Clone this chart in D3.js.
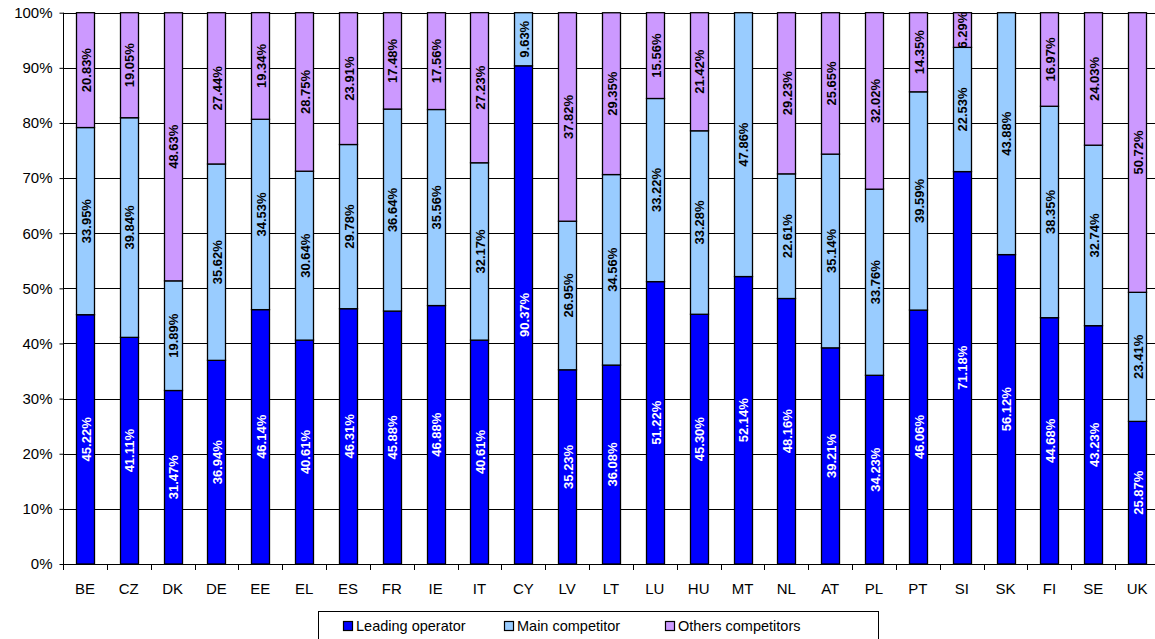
<!DOCTYPE html>
<html>
<head>
<meta charset="utf-8">
<script src="https://cdn.jsdelivr.net/npm/d3@7"></script>
<style>
  html, body { margin: 0; padding: 0; background: #fff; }
  svg { display: block; font-family: Arial, "Liberation Sans", sans-serif; }
</style>
</head>
<body>
<svg id="chart" width="1155" height="639"></svg>
<script>
const categories = ["BE","CZ","DK","DE","EE","EL","ES","FR","IE","IT","CY","LV","LT","LU","HU","MT","NL","AT","PL","PT","SI","SK","FI","SE","UK"];
const leadingOperator = [45.22,41.11,31.47,36.94,46.14,40.61,46.31,45.88,46.88,40.61,90.37,35.23,36.08,51.22,45.30,52.14,48.16,39.21,34.23,46.06,71.18,56.12,44.68,43.23,25.87];
const mainCompetitor = [33.95,39.84,19.89,35.62,34.53,30.64,29.78,36.64,35.56,32.17,9.63,26.95,34.56,33.22,33.28,47.86,22.61,35.14,33.76,39.59,22.53,43.88,38.35,32.74,23.41];
const othersCompetitors = [20.83,19.05,48.63,27.44,19.34,28.75,23.91,17.48,17.56,27.23,0,37.82,29.35,15.56,21.42,0,29.23,25.65,32.02,14.35,6.29,0,16.97,24.03,50.72];
const seriesNames = ["Leading operator","Main competitor","Others competitors"];
const seriesColors = ["#0000FF","#99CCFF","#CC99FF"];
const labelColors = ["#FFFFFF","#000000","#000000"];
const yTicks = [0,10,20,30,40,50,60,70,80,90,100];

(function () {
const svg = d3.select("#chart");
const pl = 63, pr = 1159, pt = 12.7, pb = 564;

const x = d3.scaleBand().domain(categories).range([pl, pr]).paddingInner(0.59).paddingOuter(0.295);
const xb = d3.scaleBand().domain(categories).range([pl, pr]);
const y = d3.scaleLinear().domain([0, 100]).range([pb, pt]);

// gridlines
svg.append("g").selectAll("line").data(yTicks.filter(d => d > 0)).join("line")
  .attr("x1", pl).attr("x2", pr)
  .attr("y1", d => Math.round(y(d)) + 0.5).attr("y2", d => Math.round(y(d)) + 0.5)
  .attr("stroke", "#000").attr("stroke-width", 1);

// stacked data
const rows = categories.map((c, i) => ({cat: c, s0: leadingOperator[i], s1: mainCompetitor[i], s2: othersCompetitors[i]}));
const stack = d3.stack().keys(["s0","s1","s2"])(rows);

stack.forEach((layer, li) => {
  const g = svg.append("g");
  g.selectAll("rect").data(layer.filter(d => d[1] - d[0] > 0)).join("rect")
    .attr("x", d => Math.round(x(d.data.cat)) + 0.5)
    .attr("width", Math.round(x.bandwidth()))
    .attr("y", d => y(d[1]))
    .attr("height", d => y(d[0]) - y(d[1]))
    .attr("fill", seriesColors[li])
    .attr("stroke", "#000").attr("stroke-width", 1.3);
});

stack.forEach((layer, li) => {
  const g = svg.append("g");
  g.selectAll("text").data(layer.filter(d => d[1] - d[0] > 0)).join("text")
    .attr("transform", d => {
      const cx = x(d.data.cat) + x.bandwidth() / 2 + 1;
      const cy = y((d[0] + d[1]) / 2);
      return `translate(${cx},${cy}) rotate(-90)`;
    })
    .attr("text-anchor", "middle").attr("dy", "0.36em")
    .attr("font-size", 13).attr("font-weight", "bold")
    .attr("fill", labelColors[li])
    .text(d => (d[1] - d[0]).toFixed(2) + "%");
});

// y axis
const yAxis = svg.append("g").attr("transform", `translate(${pl + 0.5},0)`)
  .call(d3.axisLeft(y).tickValues(yTicks).tickFormat(d => d + "%").tickSize(4).tickPadding(7));
yAxis.selectAll("text").attr("font-size", 15).attr("fill", "#000").attr("font-family", "Arial, 'Liberation Sans', sans-serif");
yAxis.selectAll("line").attr("stroke", "#000");
yAxis.select(".domain").attr("stroke", "#000").attr("d", `M0,${pb}V${pt}`);

// x axis
const xAxis = svg.append("g").attr("transform", `translate(0,${pb + 0.5})`)
  .call(d3.axisBottom(xb).tickSize(0).tickPadding(19));
xAxis.selectAll("text").attr("font-size", 15).attr("fill", "#000").attr("font-family", "Arial, 'Liberation Sans', sans-serif");
xAxis.select(".domain").attr("stroke", "#000").attr("d", `M${pl},0H${pr}`);
svg.append("g").selectAll("line").data(categories).join("line")
  .attr("x1", d => Math.round(xb(d)) + 0.5).attr("x2", d => Math.round(xb(d)) + 0.5)
  .attr("y1", pb).attr("y2", pb + 6)
  .attr("stroke", "#000");

// legend
const legend = svg.append("g");
legend.append("rect").attr("x", 318.5).attr("y", 611.5).attr("width", 560).attr("height", 40)
  .attr("fill", "#fff").attr("stroke", "#000").attr("stroke-width", 1);
const legendX = [343, 504, 665];
seriesNames.forEach((n, i) => {
  legend.append("rect").attr("x", legendX[i] + 0.5).attr("y", 621.5).attr("width", 9).attr("height", 9)
    .attr("fill", seriesColors[i]).attr("stroke", "#000").attr("stroke-width", 1.2);
  legend.append("text").attr("x", legendX[i] + 13).attr("y", 631)
    .attr("font-size", 14.5).attr("fill", "#000").text(n);
});
})();
</script>
</body>
</html>
